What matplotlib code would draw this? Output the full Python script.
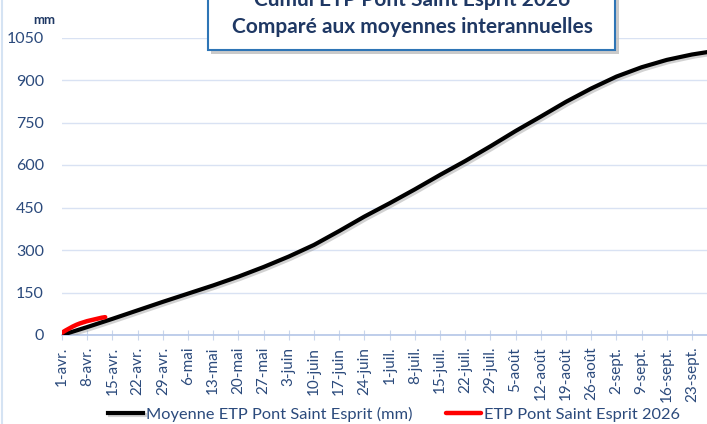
import matplotlib
matplotlib.use('Agg')
import matplotlib.pyplot as plt
import matplotlib.patheffects as pe
from matplotlib.patches import Rectangle
from matplotlib.lines import Line2D

plt.rcParams['font.family'] = ['Lato', 'DejaVu Sans']

# weekly ticks (days since 1 April)
tick_days = [0, 7, 14, 21, 28, 35, 42, 49, 56, 63, 70, 77, 84, 91, 98, 105,
             112, 119, 126, 133, 140, 147, 154, 161, 168, 175]
tick_labels = ['1-avr.', '8-avr.', '15-avr.', '22-avr.', '29-avr.', '6-mai',
               '13-mai', '20-mai', '27-mai', '3-juin', '10-juin', '17-juin',
               '24-juin', '1-juil.', '8-juil.', '15-juil.', '22-juil.',
               '29-juil.', '5-août', '12-août', '19-août', '26-août',
               '2-sept.', '9-sept.', '16-sept.', '23-sept.']

# average cumulative ETP (mm)
avg_days = [0, 7, 14, 21, 28, 35, 42, 49, 56, 63, 70, 77, 84, 91, 98, 105,
            112, 119, 126, 133, 140, 147, 154, 161, 168, 175, 182]
avg_etp = [0, 28, 57, 87, 117, 146, 175, 206, 240, 277, 318, 367, 418, 465,
           514, 565, 614, 666, 720, 771, 823, 870, 912, 945, 971, 990, 1004]

# 2026 cumulative ETP (mm)
days_2026 = [0, 1, 2, 3, 4, 5, 6, 7, 8, 9, 10, 11, 12]
etp_2026 = [8, 16, 23, 30, 36, 41, 45, 49, 52, 55, 58, 61, 63]

W, H = 707, 424
txt_col = '#2B4A7C'
navy = '#1F3864'
grid_col = '#D9E2F3'

fig = plt.figure(figsize=(W / 100, H / 100), dpi=100)
ax = fig.add_axes([62 / W, 1 - 335 / H, 1 - 62 / W, (335 - 37.5) / H])

shadow = [pe.SimpleLineShadow(offset=(1.5, -1.5), shadow_color='#808080', alpha=0.35),
          pe.Normal()]
l1, = ax.plot(avg_days, avg_etp, color='black', lw=3, zorder=3,
              path_effects=shadow, label='Moyenne ETP Pont Saint Esprit (mm)')
l2, = ax.plot(days_2026, etp_2026, color='#FF0000', lw=3.2, zorder=4,
              solid_capstyle='round', label='ETP Pont Saint Esprit 2026')

ax.set_xlim(0, (W - 62) / 3.6)
ax.set_ylim(0, 1050)
ax.set_yticks([0, 150, 300, 450, 600, 750, 900, 1050])
ax.grid(axis='y', color=grid_col, lw=1)
ax.set_axisbelow(True)
for s in ['top', 'right', 'left']:
    ax.spines[s].set_visible(False)
ax.spines['bottom'].set_color('#B4C6E7')
ax.spines['bottom'].set_linewidth(1.2)

ax.set_xticks(tick_days)
ax.set_xticklabels(tick_labels, rotation=90, ha='center', va='top')
ax.tick_params(axis='x', direction='inout', length=7, color='#C9D6EC',
               labelsize=11, labelcolor=txt_col, pad=5)
ax.tick_params(axis='y', length=0, pad=13, labelsize=11.5, labelcolor=txt_col)

fig.text(44 / W, 1 - 20 / H, 'mm', fontsize=9.5, fontweight='bold',
         color=navy, ha='center', va='center')

# title box with shadow
fig.patches.append(Rectangle((211 / W, 1 - 54 / H), 408 / W, 70 / H,
                             transform=fig.transFigure, facecolor='#BDBDBD',
                             edgecolor='none', alpha=0.8, zorder=5))
fig.patches.append(Rectangle((208 / W, 1 - 50 / H), 407 / W, 70 / H,
                             transform=fig.transFigure, facecolor='white',
                             edgecolor='#2E75B6', lw=1.5, zorder=6))
fig.text(412 / W, 1 - 6 / H, 'Cumul ETP Pont Saint Esprit 2026', fontsize=15,
         fontweight='bold', color=navy, ha='center', va='baseline', zorder=7)
fig.text(412 / W, 1 - 33 / H, 'Comparé aux moyennes interannuelles', fontsize=15,
         fontweight='bold', color=navy, ha='center', va='baseline', zorder=7)

# left border of the chart area
fig.add_artist(Line2D([2 / W, 2 / W], [0, 1], transform=fig.transFigure,
                      color='#D5E3F3', lw=1.5))

fig.legend(handles=[l1, l2], loc='center', bbox_to_anchor=(394 / W, 1 - 414 / H),
           ncol=2, frameon=False, fontsize=11.8, labelcolor=txt_col,
           handlelength=2.13, handletextpad=0.18, columnspacing=2.07,
           borderpad=0, borderaxespad=0)

fig.savefig('out.png', dpi=100)
